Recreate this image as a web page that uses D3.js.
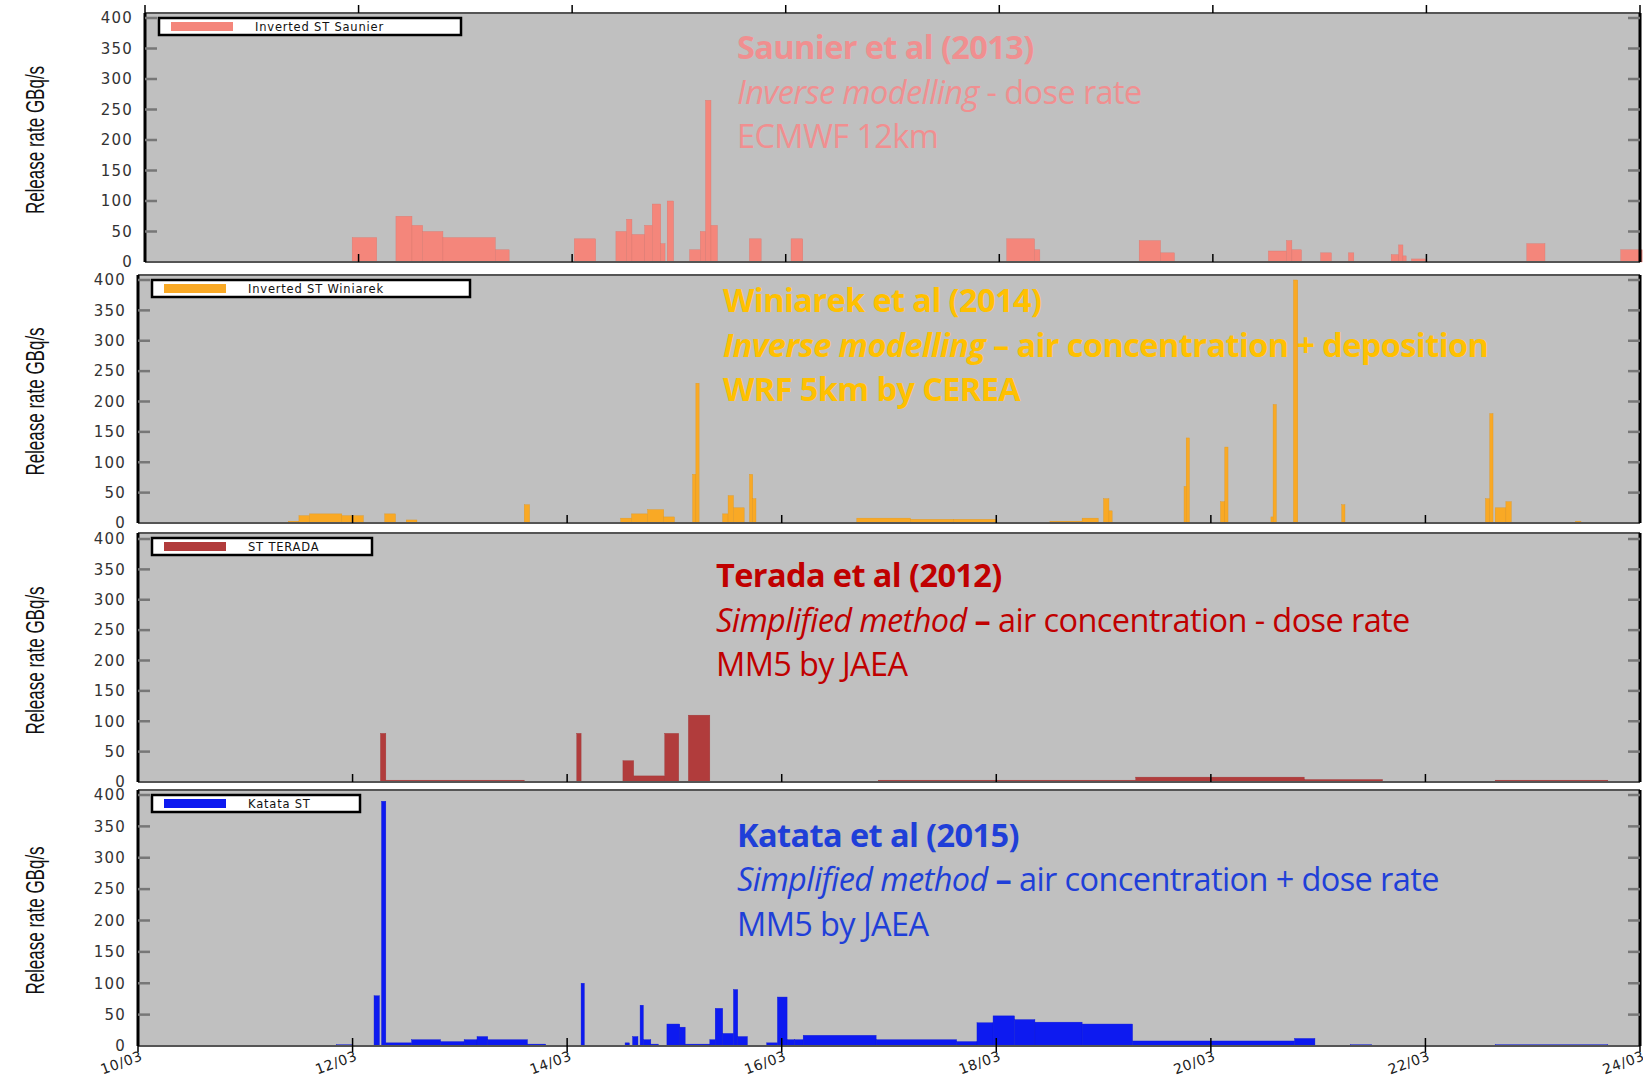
<!DOCTYPE html>
<html><head><meta charset="utf-8">
<script src="https://cdn.jsdelivr.net/npm/d3@7"></script>
<style>body{margin:0;background:#fff}svg{display:block}</style>
</head><body><svg id="chart" width="1643" height="1081"></svg>
<script>
/* DATA: [start day of March, end day of March, release rate GBq/s] */
const sauniers = [
  [11.94,12.17,40],[12.35,12.5,75],[12.5,12.6,60],[12.6,12.79,50],[12.79,13.28,40],[13.28,13.41,20],
  [14.02,14.22,38],[14.41,14.51,50],[14.51,14.56,70],[14.56,14.68,45],[14.68,14.75,60],[14.75,14.83,95],
  [14.83,14.87,30],[14.89,14.95,100],[15.1,15.2,20],[15.2,15.25,50],[15.25,15.3,265],[15.3,15.36,60],
  [15.66,15.77,38],[16.05,16.16,38],[18.07,18.33,38],[18.33,18.38,20],[19.31,19.51,35],[19.51,19.64,15],
  [20.52,20.69,18],[20.69,20.74,35],[20.74,20.83,20],[21.01,21.11,15],[21.27,21.32,15],
  [21.67,21.74,12],[21.74,21.78,28],[21.78,21.81,10],[21.86,21.99,5],[22.94,23.11,30],[23.82,24.02,20]
];
const winiarek = [
  [11.4,11.5,3],[11.5,11.6,12],[11.6,11.9,15],[11.9,12.1,12],[12.3,12.4,15],[12.5,12.6,5],
  [13.6,13.65,30],[14.5,14.6,8],[14.6,14.75,15],[14.75,14.9,22],[14.9,15.0,10],
  [15.17,15.2,80],[15.2,15.23,230],[15.45,15.5,15],[15.5,15.55,45],[15.55,15.65,25],[15.7,15.73,80],[15.73,15.76,40],
  [16.7,17.2,8],[17.2,17.6,6],[17.6,18.0,6],[18.5,18.8,3],[18.8,18.95,8],[19.0,19.05,40],[19.05,19.08,20],
  [19.75,19.77,60],[19.77,19.8,140],[20.09,20.13,35],[20.13,20.16,125],[20.56,20.58,10],[20.58,20.61,195],
  [20.77,20.81,400],[21.22,21.25,30],[22.56,22.6,40],[22.6,22.63,180],[22.65,22.75,25],[22.75,22.8,35],[23.4,23.45,3]
];
const terada = [
  [12.26,12.31,80],[12.31,13.6,3],[14.09,14.13,80],[14.52,14.62,35],[14.62,14.91,10],[14.91,15.04,80],
  [15.13,15.33,110],[16.9,19.3,3],[19.3,20.87,8],[20.87,21.6,4],[22.65,23.7,3]
];
const katata = [
  [11.85,12.0,2],[12.2,12.25,80],[12.27,12.31,390],[12.31,12.55,5],[12.55,12.82,10],[12.82,13.04,7],
  [13.04,13.16,10],[13.16,13.26,15],[13.26,13.63,10],[13.63,13.8,3],[14.13,14.16,100],[14.54,14.58,5],
  [14.61,14.66,15],[14.68,14.71,65],[14.71,14.78,10],[14.78,14.85,3],[14.93,15.05,35],[15.05,15.1,30],
  [15.1,15.33,3],[15.33,15.38,10],[15.38,15.45,60],[15.45,15.55,20],[15.55,15.59,90],[15.59,15.68,15],
  [15.86,15.96,5],[15.96,16.05,78],[16.05,16.12,10],[16.12,16.2,10],[16.2,16.88,17],[16.88,17.63,10],
  [17.63,17.82,7],[17.82,17.97,37],[17.97,18.17,48],[18.17,18.36,42],[18.36,18.8,38],[18.8,19.27,35],
  [19.27,20.78,8],[20.78,20.97,12],[21.3,21.5,2],[22.65,23.7,2]
];
const yTicks = [0,50,100,150,200,250,300,350,400];
const xTicks = [10,12,14,16,18,20,22,24];
const legendNames = ["Inverted ST Saunier","Inverted ST Winiarek","ST TERADA","Katata ST"];
const colors = ["#f4867b","#f9a925","#b13c3c","#0d1af0"];
const notes = [
  {c:"#f08f90", lines:[[{t:"Saunier et al (2013)",w:"bold"}],[{t:"Inverse modelling",s:"italic"},{t:" - dose rate"}],[{t:"ECMWF 12km"}]]},
  {c:"#ffc000", lines:[[{t:"Winiarek et al (2014)",w:"bold"}],[{t:"Inverse modelling",s:"italic",w:"bold"},{t:" – air concentration + deposition",w:"bold"}],[{t:"WRF 5km by CEREA",w:"bold"}]]},
  {c:"#c00000", lines:[[{t:"Terada et al (2012)",w:"bold"}],[{t:"Simplified method",s:"italic"},{t:" – ",w:"bold"},{t:"air concentration - dose rate"}],[{t:"MM5 by JAEA"}]]},
  {c:"#1f3fd8", lines:[[{t:"Katata et al (2015)",w:"bold"}],[{t:"Simplified method",s:"italic"},{t:" – ",w:"bold"},{t:"air concentration + dose rate"}],[{t:"MM5 by JAEA"}]]}
];
const series = [sauniers, winiarek, terada, katata];

/* LAYOUT */
const panels = [
  {x0:145,x1:1640,top:18,bottom:262,fTop:13,tx:737,ty:[59,104,148],lw:302},
  {x0:138,x1:1640,top:280,bottom:523,fTop:275,tx:723,ty:[312,357,401],lw:318},
  {x0:138,x1:1640,top:539,bottom:782,fTop:533,tx:716,ty:[587,632,676],lw:220},
  {x0:138,x1:1640,top:795,bottom:1046,fTop:790,tx:737,ty:[847,891,936],lw:208}
];
const svg = d3.select("#chart");

panels.forEach((p, i) => {
  const x = d3.scaleLinear().domain([10,24]).range([p.x0,p.x1]);
  const y = d3.scaleLinear().domain([0,400]).range([p.bottom,p.top]);
  const g = svg.append("g");
  g.append("rect").attr("x",p.x0).attr("y",p.fTop).attr("width",p.x1-p.x0).attr("height",p.bottom-p.fTop)
    .attr("fill","#c0c0c0");
  // bars
  g.selectAll(".bar").data(series[i]).join("rect")
    .attr("x",d=>x(d[0])).attr("width",d=>Math.max(2.5,x(d[1])-x(d[0])))
    .attr("y",d=>y(d[2])).attr("height",d=>p.bottom-y(d[2]))
    .attr("fill",colors[i]).attr("stroke",d3.color(colors[i]).darker(0.3)).attr("stroke-width",0.4);
  // frame
  g.append("line").attr("x1",p.x0).attr("x2",p.x1).attr("y1",p.fTop).attr("y2",p.fTop).attr("stroke","#555").attr("stroke-width",2);
  g.append("line").attr("x1",p.x0).attr("x2",p.x1).attr("y1",p.bottom).attr("y2",p.bottom).attr("stroke","#555").attr("stroke-width",2);
  g.append("line").attr("x1",p.x0).attr("x2",p.x0).attr("y1",p.fTop).attr("y2",p.bottom).attr("stroke","#000").attr("stroke-width",3);
  g.append("line").attr("x1",p.x1).attr("x2",p.x1).attr("y1",p.fTop).attr("y2",p.bottom).attr("stroke","#000").attr("stroke-width",3);
  // y axis
  const ya = g.append("g").attr("transform",`translate(${p.x0},0)`)
    .call(d3.axisLeft(y).tickValues(yTicks).tickSize(0).tickPadding(12));
  ya.select(".domain").remove();
  ya.selectAll("text").attr("font-family","DejaVu Sans").attr("font-size",15).attr("fill","#333")
    .attr("letter-spacing",1.2);
  g.selectAll(".yt").data(yTicks.slice(1)).join("line")
    .attr("x1",p.x0).attr("x2",p.x0+12).attr("y1",d=>y(d)).attr("y2",d=>y(d)).attr("stroke","#777").attr("stroke-width",2.5);
  g.selectAll(".yt2").data(yTicks.slice(1)).join("line")
    .attr("x1",p.x1-12).attr("x2",p.x1).attr("y1",d=>y(d)).attr("y2",d=>y(d)).attr("stroke","#777").attr("stroke-width",2.5);
  // x ticks on frame
  if (i===0) g.selectAll(".xt").data(xTicks).join("line")
    .attr("x1",d=>x(d)).attr("x2",d=>x(d)).attr("y1",p.fTop-8).attr("y2",p.fTop)
    .attr("stroke","#000").attr("stroke-width",1.5);
  g.selectAll(".xb").data(xTicks).join("line")
    .attr("x1",d=>x(d)).attr("x2",d=>x(d)).attr("y1",p.bottom-8).attr("y2",p.bottom+(i===3?6:0))
    .attr("stroke","#000").attr("stroke-width",1.5);
  // y title
  const cy = (p.top+p.bottom)/2;
  g.append("text").attr("transform",`translate(44,${cy}) rotate(-90) scale(0.68,1)`)
    .attr("text-anchor","middle").attr("font-family","Liberation Sans").attr("font-size",25).attr("fill","#111")
    .text("Release rate GBq/s");
  // legend
  const lx = p.x0+14, ly = p.fTop+5;
  g.append("rect").attr("x",lx).attr("y",ly).attr("width",p.lw).attr("height",17)
    .attr("fill","#fff").attr("stroke","#000").attr("stroke-width",2.5);
  g.append("rect").attr("x",lx+12).attr("y",ly+4).attr("width",62).attr("height",9).attr("fill",colors[i]);
  g.append("text").attr("x",lx+96).attr("y",ly+13).attr("font-family","DejaVu Sans").attr("font-size",11.5)
    .attr("fill","#111").attr("letter-spacing",0.8).text(legendNames[i]);
  // annotation
  notes[i].lines.forEach((ln, k) => {
    const t = g.append("text").attr("x",p.tx).attr("y",p.ty[k]).attr("font-family","Open Sans")
      .attr("font-size",32.5).attr("fill",notes[i].c).attr("letter-spacing",-0.6);
    ln.forEach(s => t.append("tspan").attr("font-weight",s.w||"normal").attr("font-style",s.s||"normal").text(s.t));
  });
  // bottom axis labels
  if (i===3) {
    svg.append("g").selectAll("text").data(xTicks).join("text")
      .attr("transform",d=>`translate(${x(d)+2},${p.bottom+4}) rotate(-20)`)
      .attr("text-anchor","end").attr("dominant-baseline","hanging").attr("font-family","DejaVu Sans")
      .attr("font-size",14).attr("fill","#222").attr("letter-spacing",0.6).text(d=>`${d}/03`);
  }
});
</script></body></html>
